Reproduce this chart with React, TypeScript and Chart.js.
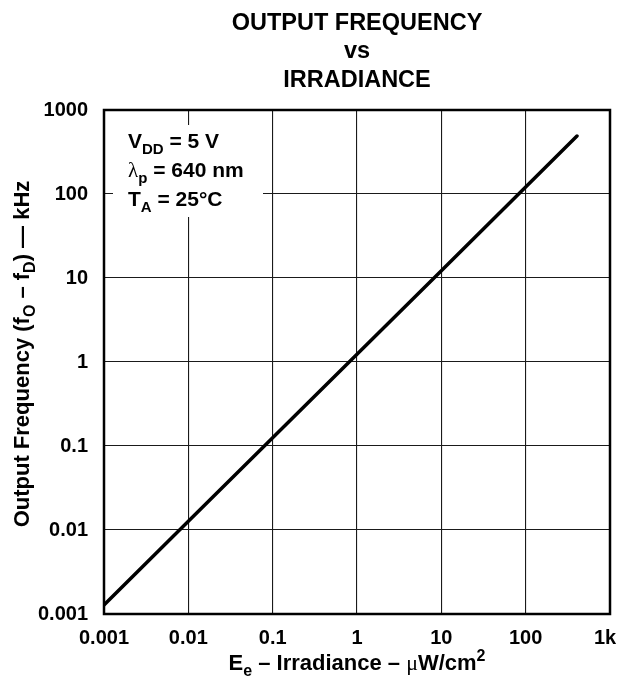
import React, { useEffect, useRef } from "react";
import { Chart, registerables } from "chart.js";

Chart.register(...registerables);

// ---- data ----
const irradiance = [0.001, 0.01, 0.1, 1, 10, 100, 406];
const outputFreq = [0.00128, 0.0127, 0.125, 1.24, 12.2, 121, 490];

const xTickValues = [0.001, 0.01, 0.1, 1, 10, 100, 1000];
const xTickLabels = ["0.001", "0.01", "0.1", "1", "10", "100", "1k"];
const yTickValues = [0.001, 0.01, 0.1, 1, 10, 100, 1000];
const yTickLabels = ["0.001", "0.01", "0.1", "1", "10", "100", "1000"];

const titleLines = ["OUTPUT FREQUENCY", "vs", "IRRADIANCE"];

type Part = { t: string; sub?: boolean; sup?: boolean; font?: string };

const SANS = "'Liberation Sans', Arial, Helvetica, sans-serif";
const SERIF = "'Liberation Serif', 'DejaVu Serif', serif";

const yTitle: Part[] = [
  { t: "Output Frequency (f" },
  { t: "O", sub: true },
  { t: " \u2013 f" },
  { t: "D", sub: true },
  { t: ") \u2014 kHz" },
];
const xTitle: Part[] = [
  { t: "E" },
  { t: "e", sub: true },
  { t: " \u2013 Irradiance \u2013 " },
  { t: "\u03bc", font: SERIF },
  { t: "W/cm" },
  { t: "2", sup: true },
];
const noteLines: Part[][] = [
  [{ t: "V" }, { t: "DD", sub: true }, { t: " = 5 V" }],
  [{ t: "\u03bb", font: SERIF }, { t: "p", sub: true }, { t: " = 640 nm" }],
  [{ t: "T" }, { t: "A", sub: true }, { t: " = 25\u00b0C" }],
];

function fontFor(p: Part, size: number) {
  const s = p.sub || p.sup ? Math.round(size * 0.72) : size;
  const fam = p.font || SANS;
  const weight = p.font === SERIF ? "normal" : "bold";
  return `${weight} ${s}px ${fam}`;
}

function drawRich(
  ctx: CanvasRenderingContext2D,
  parts: Part[],
  x: number,
  y: number,
  size: number,
  align: "left" | "center"
) {
  ctx.save();
  ctx.textBaseline = "alphabetic";
  ctx.textAlign = "left";
  let total = 0;
  const widths = parts.map((p) => {
    ctx.font = fontFor(p, size);
    const w = ctx.measureText(p.t).width;
    total += w;
    return w;
  });
  let cx = align === "center" ? x - total / 2 : x;
  parts.forEach((p, i) => {
    ctx.font = fontFor(p, size);
    const dy = p.sub ? size * 0.28 : p.sup ? -size * 0.4 : 0;
    ctx.fillStyle = "#000";
    ctx.fillText(p.t, cx, y + dy);
    cx += widths[i];
  });
  ctx.restore();
}

function findLabel(values: number[], labels: string[], v: number) {
  const i = values.findIndex((t) => Math.abs(Math.log10(t) - Math.log10(v)) < 1e-6);
  return i >= 0 ? labels[i] : "";
}

const decorPlugin = {
  id: "decor",
  beforeDatasetsDraw(chart: any) {
    const { ctx, chartArea } = chart;
    ctx.save();
    ctx.fillStyle = "#fff";
    ctx.fillRect(chartArea.left + 9, chartArea.top + 15, 150, 92);
    ctx.restore();
    noteLines.forEach((line, i) => {
      drawRich(ctx, line, chartArea.left + 24, chartArea.top + 38 + i * 29, 21, "left");
    });
  },
  afterDraw(chart: any) {
    const { ctx, chartArea } = chart;
    const cx = (chartArea.left + chartArea.right) / 2;
    ctx.save();
    ctx.strokeStyle = "#000";
    ctx.lineWidth = 2.5;
    ctx.strokeRect(chartArea.left, chartArea.top, chartArea.right - chartArea.left, chartArea.bottom - chartArea.top);
    ctx.fillStyle = "#000";
    ctx.textAlign = "center";
    ctx.textBaseline = "alphabetic";
    ctx.font = `bold 23.5px ${SANS}`;
    const baselines = [30, 58, 87];
    titleLines.forEach((l, i) => ctx.fillText(l, cx, baselines[i]));
    ctx.restore();

    drawRich(ctx, xTitle, cx, 670, 22, "center");

    ctx.save();
    ctx.translate(29, 354);
    ctx.rotate(-Math.PI / 2);
    drawRich(ctx, yTitle, 0, 0, 22, "center");
    ctx.restore();
  },
};

export default function App() {
  const ref = useRef<HTMLCanvasElement>(null);
  useEffect(() => {
    if (!ref.current) return;
    const tickFont = { family: SANS, size: 20, weight: "bold" as const };
    const chart = new Chart(ref.current, {
      type: "line",
      data: {
        datasets: [
          {
            data: irradiance.map((x, i) => ({ x, y: outputFreq[i] })),
            borderColor: "#000",
            borderWidth: 3.5,
            borderCapStyle: "round",
            pointRadius: 0,
            tension: 0,
          },
        ],
      },
      options: {
        responsive: false,
        animation: false,
        events: [],
        layout: { padding: { left: 0, top: 110, right: 8, bottom: 0 } },
        plugins: { legend: { display: false }, tooltip: { enabled: false }, title: { display: false } },
        scales: {
          x: {
            type: "logarithmic",
            min: 0.001,
            max: 1000,
            afterBuildTicks: (s: any) => {
              s.ticks = xTickValues.map((v) => ({ value: v }));
            },
            afterFit: (s: any) => {
              s.height = 77;
              s.paddingLeft = 0;
              s.paddingRight = 0;
            },
            ticks: {
              autoSkip: false,
              maxRotation: 0,
              padding: 12,
              color: "#000",
              font: tickFont,
              callback: (v: any, i: number) => {
                const l = findLabel(xTickValues, xTickLabels, Number(v));
                return i === xTickValues.length - 1 ? l + "\u2002" : l;
              },
            },
            grid: { color: "#1a1a1a", lineWidth: 1.1, drawTicks: false },
            border: { display: false },
          },
          y: {
            type: "logarithmic",
            min: 0.001,
            max: 1000,
            afterBuildTicks: (s: any) => {
              s.ticks = yTickValues.map((v) => ({ value: v }));
            },
            afterFit: (s: any) => {
              s.width = 104;
              s.paddingTop = 0;
              s.paddingBottom = 0;
            },
            ticks: {
              autoSkip: false,
              padding: 16,
              color: "#000",
              font: tickFont,
              callback: (v: any) => findLabel(yTickValues, yTickLabels, Number(v)),
            },
            grid: { color: "#1a1a1a", lineWidth: 1.1, drawTicks: false },
            border: { display: false },
          },
        },
      } as any,
      plugins: [decorPlugin],
    });
    return () => chart.destroy();
  }, []);
  return (
    <div style={{ position: "absolute", left: 0, top: 0, width: 618, height: 691, background: "#fff" }}>
      <canvas ref={ref} width={618} height={691} style={{ display: "block" }} />
    </div>
  );
}
